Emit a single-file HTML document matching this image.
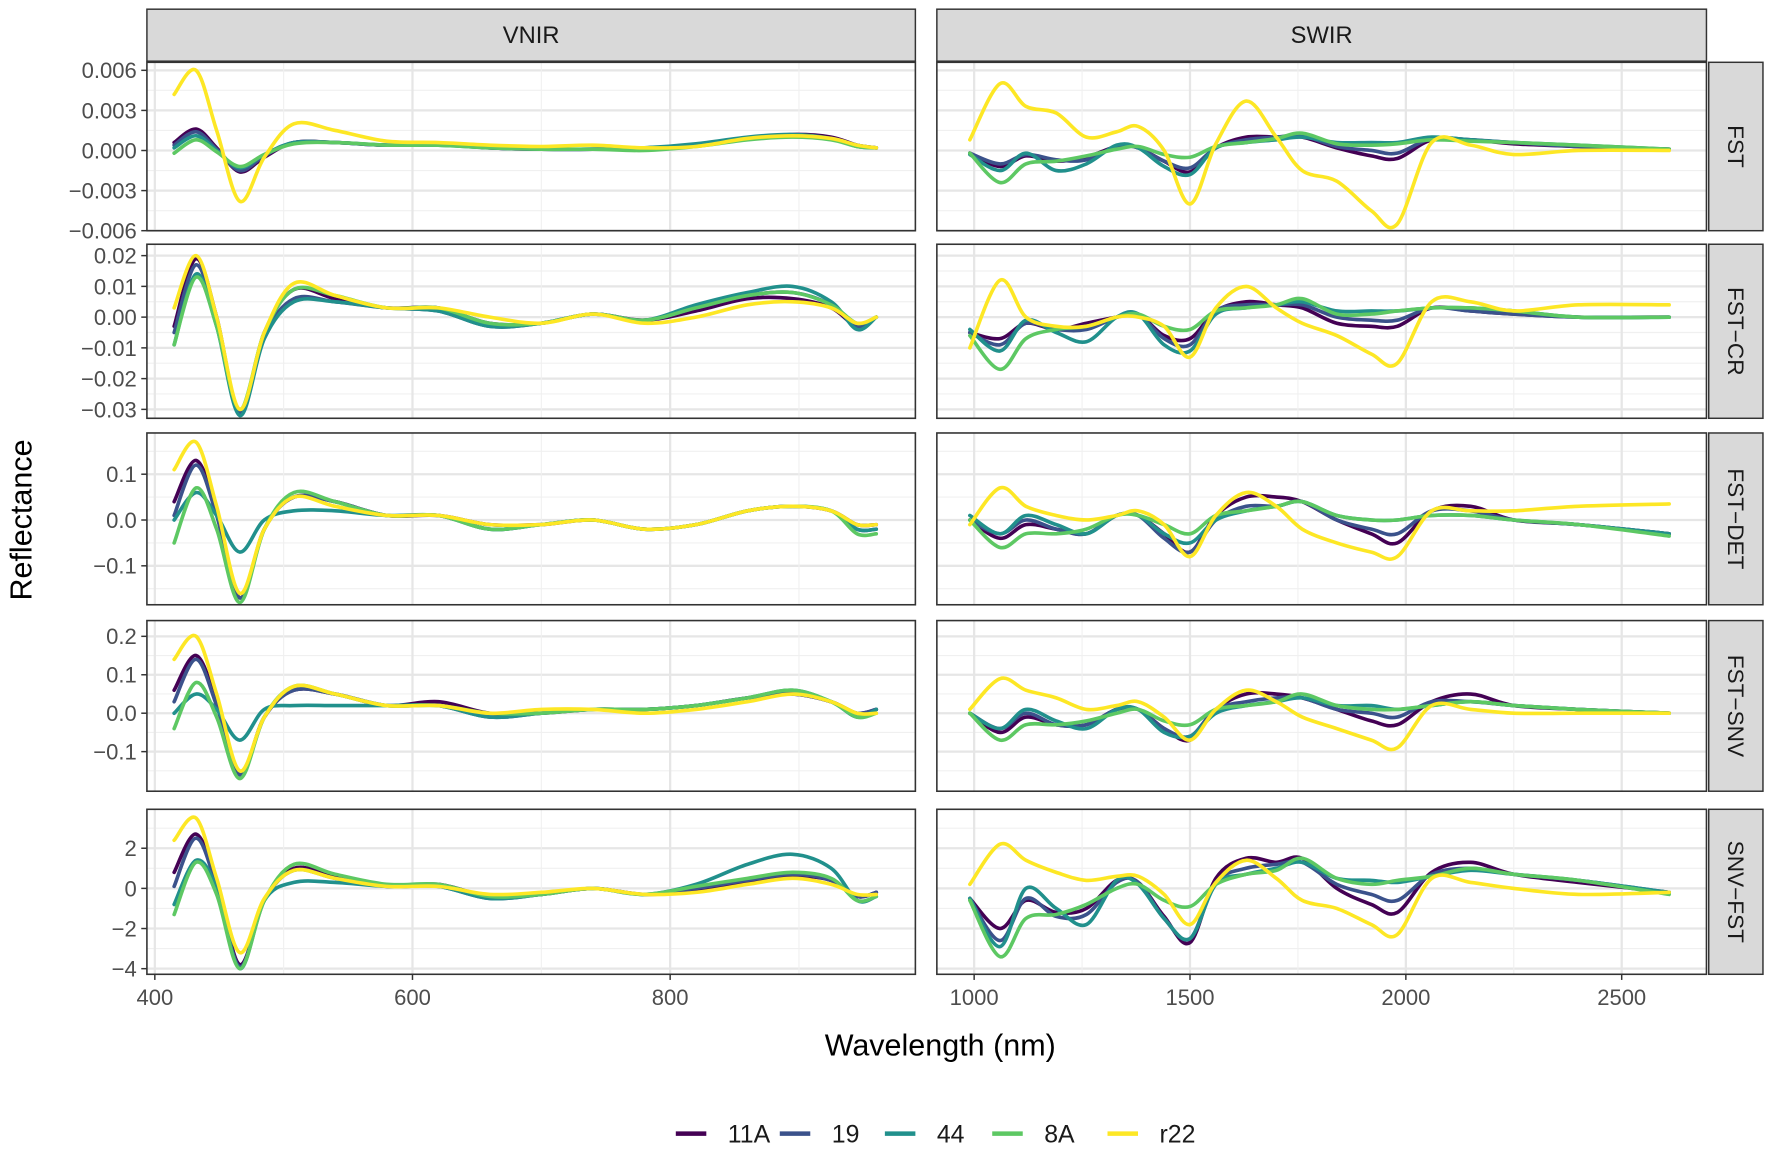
<!DOCTYPE html>
<html><head><meta charset="utf-8"><style>
html,body{margin:0;padding:0;background:#fff;}
svg{display:block;font-family:"Liberation Sans",sans-serif;}
</style></head><body>
<svg id="chart" width="1772" height="1153" viewBox="0 0 1568 1020" xmlns="http://www.w3.org/2000/svg"></svg>
<script>
// ---- data ----
const seriesNames = ["11A","19","44","8A","r22"];
const seriesColors = ["#440154","#3B528B","#21908C","#5DC863","#FDE725"];
const rowNames = ["FST","FST\u2212CR","FST\u2212DET","FST\u2212SNV","SNV\u2212FST"];
const vnirWl = [415,432,448,466,485,508,540,580,620,660,700,740,780,820,860,895,925,945,960];
const swirWl = [990,1060,1120,1190,1260,1330,1380,1440,1500,1560,1630,1700,1760,1840,1920,1980,2060,2150,2250,2400,2610];
const vnirTicks = [400,600,800];
const swirTicks = [1000,1500,2000,2500];
// y tick values (in panel data units) and printed labels
const yTickVals = [[6,3,0,-3,-6],[2,1,0,-1,-2,-3],[1,0,-1],[2,1,0,-1],[2,0,-2,-4]];
const yTickLabels = [["0.006","0.003","0.000","\u22120.003","\u22120.006"],["0.02","0.01","0.00","\u22120.01","\u22120.02","\u22120.03"],["0.1","0.0","\u22120.1"],["0.2","0.1","0.0","\u22120.1"],["2","0","\u22122","\u22124"]];
const yDomains = [[-6,6.6],[-3.29,2.37],[-1.85,1.90],[-2.03,2.41],[-4.28,3.94]];

// FST (x0.001)
const fstV = [
[0.6,1.6,0.2,-1.6,-0.5,0.6,0.6,0.4,0.5,0.2,0.1,0.1,0.2,0.4,0.9,1.2,1.0,0.4,0.2],
[0.4,1.4,0.1,-1.5,-0.4,0.6,0.6,0.4,0.5,0.2,0.1,0.1,0.2,0.4,0.9,1.1,0.9,0.4,0.2],
[0.2,1.1,0.0,-1.3,-0.3,0.6,0.6,0.4,0.4,0.2,0.1,0.1,0.2,0.5,1.0,1.2,0.9,0.3,0.2],
[-0.2,0.8,-0.1,-1.2,-0.3,0.5,0.6,0.4,0.4,0.2,0.1,0.1,0.0,0.3,0.8,1.0,0.8,0.3,0.2],
[4.2,6.0,1.5,-3.8,-0.5,2.0,1.5,0.7,0.6,0.4,0.3,0.4,0.2,0.3,0.9,1.1,0.9,0.4,0.2]];
const fstS = [
[-0.2,-1.2,-0.4,-0.8,-0.5,0.3,0.2,-0.8,-1.6,0.2,1.0,1.0,1.0,0.2,-0.4,-0.6,0.8,0.8,0.5,0.3,0.1],
[-0.2,-1.0,-0.3,-0.7,-0.7,0.3,0.2,-0.8,-1.3,0.2,0.8,1.0,1.1,0.3,0.0,-0.2,0.9,0.8,0.6,0.3,0.1],
[-0.3,-1.5,-0.2,-1.5,-1.0,0.4,0.2,-1.2,-1.8,0.2,0.6,0.8,1.0,0.6,0.6,0.6,1.0,0.8,0.6,0.4,0.1],
[-0.2,-2.4,-1.0,-0.8,-0.4,0.1,0.3,-0.3,-0.5,0.3,0.6,0.9,1.3,0.5,0.4,0.5,0.8,0.7,0.6,0.4,0.1],
[0.8,5.0,3.3,2.8,1.0,1.4,1.8,0.0,-4.0,0.5,3.7,1.0,-1.5,-2.3,-4.5,-5.5,0.6,0.4,-0.3,0.0,0.0]];
// FST-CR (x0.01)
const crV = [
[-0.3,1.9,0.0,-3.1,-0.5,0.9,0.6,0.3,0.3,-0.2,-0.2,0.1,-0.1,0.2,0.6,0.6,0.3,-0.3,0.0],
[-0.5,1.7,-0.2,-3.1,-0.6,0.6,0.5,0.3,0.2,-0.3,-0.2,0.1,-0.1,0.3,0.7,0.8,0.4,-0.3,0.0],
[-0.9,1.4,-0.3,-3.2,-0.7,0.5,0.5,0.3,0.2,-0.3,-0.2,0.1,-0.1,0.4,0.8,1.0,0.5,-0.4,0.0],
[-0.9,1.3,-0.3,-3.0,-0.5,0.9,0.7,0.3,0.3,-0.2,-0.2,0.1,-0.1,0.3,0.7,0.8,0.4,-0.2,0.0],
[0.3,2.0,0.0,-3.0,-0.5,1.1,0.7,0.3,0.3,0.0,-0.2,0.1,-0.2,0.0,0.4,0.5,0.3,-0.2,0.0]];
const crS = [
[-0.5,-0.7,-0.2,-0.4,-0.2,0.0,0.1,-0.6,-0.7,0.2,0.5,0.4,0.3,-0.2,-0.3,-0.3,0.3,0.2,0.1,0.0,0.0],
[-0.5,-0.9,-0.2,-0.4,-0.4,0.0,0.1,-0.7,-0.9,0.2,0.4,0.4,0.4,0.0,-0.1,-0.1,0.3,0.2,0.1,0.0,0.0],
[-0.4,-1.1,-0.1,-0.5,-0.8,0.0,0.1,-0.9,-1.1,0.1,0.3,0.4,0.5,0.2,0.2,0.2,0.3,0.3,0.2,0.0,0.0],
[-0.6,-1.7,-0.7,-0.4,-0.3,0.0,0.1,-0.3,-0.4,0.2,0.3,0.4,0.6,0.1,0.1,0.2,0.3,0.3,0.2,0.0,0.0],
[-1.0,1.2,0.0,-0.3,-0.3,0.0,0.0,-0.3,-1.3,0.3,1.0,0.3,-0.2,-0.6,-1.2,-1.5,0.5,0.5,0.2,0.4,0.4]];
// FST-DET (x0.1)
const detV = [
[0.4,1.3,0.2,-1.7,-0.2,0.5,0.4,0.1,0.1,-0.1,-0.1,0.0,-0.2,-0.1,0.2,0.3,0.2,-0.1,-0.1],
[0.1,1.2,0.1,-1.7,-0.2,0.5,0.4,0.1,0.1,-0.2,-0.1,0.0,-0.2,-0.1,0.2,0.3,0.2,-0.2,-0.2],
[0.0,0.6,0.1,-0.7,0.0,0.2,0.2,0.1,0.1,-0.2,-0.1,0.0,-0.2,-0.1,0.2,0.3,0.2,-0.2,-0.2],
[-0.5,0.7,-0.2,-1.8,-0.2,0.6,0.4,0.1,0.1,-0.2,-0.1,0.0,-0.2,-0.1,0.2,0.3,0.2,-0.3,-0.3],
[1.1,1.7,0.3,-1.6,-0.2,0.5,0.3,0.1,0.1,-0.1,-0.1,0.0,-0.2,-0.1,0.2,0.3,0.2,-0.1,-0.1]];
const detS = [
[0.0,-0.4,-0.1,-0.2,-0.3,0.1,0.1,-0.3,-0.7,0.1,0.5,0.5,0.4,0.0,-0.3,-0.5,0.2,0.3,0.0,-0.1,-0.3],
[0.0,-0.3,0.0,-0.2,-0.3,0.1,0.1,-0.4,-0.7,0.0,0.3,0.3,0.4,0.0,-0.2,-0.3,0.2,0.2,0.0,-0.1,-0.3],
[0.1,-0.3,0.1,-0.1,-0.3,0.1,0.1,-0.3,-0.5,0.0,0.2,0.3,0.4,0.1,0.0,0.0,0.1,0.1,0.0,-0.1,-0.3],
[0.0,-0.6,-0.3,-0.3,-0.2,0.1,0.1,-0.1,-0.3,0.1,0.2,0.3,0.4,0.1,0.0,0.0,0.1,0.1,0.0,-0.1,-0.35],
[-0.1,0.7,0.3,0.1,0.0,0.1,0.2,-0.1,-0.8,0.1,0.6,0.3,-0.2,-0.5,-0.7,-0.8,0.2,0.2,0.2,0.3,0.35]];
// FST-SNV (x0.1)
const snvV = [
[0.6,1.5,0.3,-1.6,-0.1,0.6,0.5,0.2,0.3,0.0,0.0,0.1,0.1,0.2,0.4,0.5,0.3,0.0,0.1],
[0.3,1.4,0.2,-1.6,-0.1,0.6,0.5,0.2,0.2,-0.1,0.0,0.1,0.1,0.2,0.4,0.5,0.3,0.0,0.1],
[0.0,0.5,0.1,-0.7,0.1,0.2,0.2,0.2,0.2,-0.1,0.0,0.1,0.1,0.2,0.4,0.6,0.3,-0.1,0.1],
[-0.4,0.8,-0.1,-1.7,-0.1,0.7,0.5,0.2,0.2,0.0,0.0,0.1,0.1,0.2,0.4,0.6,0.3,-0.1,0.0],
[1.4,2.0,0.5,-1.5,-0.1,0.7,0.5,0.2,0.2,0.0,0.1,0.1,0.0,0.1,0.3,0.5,0.3,0.0,0.0]];
const snvS = [
[0.0,-0.5,-0.1,-0.3,-0.3,0.1,0.1,-0.4,-0.7,0.1,0.5,0.5,0.4,0.1,-0.2,-0.3,0.3,0.5,0.2,0.1,0.0],
[0.0,-0.4,0.0,-0.3,-0.3,0.1,0.1,-0.4,-0.6,0.1,0.3,0.4,0.4,0.1,0.0,-0.1,0.3,0.3,0.2,0.1,0.0],
[0.0,-0.4,0.1,-0.2,-0.4,0.1,0.1,-0.5,-0.6,0.0,0.2,0.3,0.4,0.2,0.2,0.1,0.2,0.3,0.2,0.1,0.0],
[0.0,-0.7,-0.3,-0.3,-0.2,0.0,0.1,-0.2,-0.3,0.1,0.2,0.3,0.5,0.2,0.1,0.1,0.2,0.3,0.2,0.1,0.0],
[0.1,0.9,0.6,0.4,0.1,0.2,0.3,-0.1,-0.7,0.1,0.6,0.3,-0.1,-0.4,-0.7,-0.9,0.2,0.1,0.0,0.0,0.0]];
// SNV-FST
const sfV = [
[0.8,2.7,0.3,-3.8,-0.6,1.0,0.6,0.1,0.2,-0.4,-0.3,0.0,-0.3,-0.1,0.3,0.6,0.4,-0.4,-0.2],
[0.1,2.5,0.1,-3.9,-0.6,0.9,0.5,0.1,0.1,-0.5,-0.3,0.0,-0.3,0.0,0.4,0.7,0.4,-0.4,-0.2],
[-0.8,1.4,0.0,-4.0,-0.6,0.3,0.3,0.1,0.1,-0.5,-0.3,0.0,-0.3,0.2,1.2,1.7,1.0,-0.6,-0.4],
[-1.3,1.3,-0.3,-4.0,-0.6,1.2,0.7,0.2,0.2,-0.4,-0.3,0.0,-0.3,0.1,0.5,0.8,0.5,-0.6,-0.4],
[2.4,3.5,0.5,-3.2,-0.5,0.9,0.5,0.1,0.1,-0.3,-0.2,0.0,-0.3,-0.2,0.2,0.5,0.2,-0.3,-0.3]];
const sfS = [
[-0.5,-2.0,-0.6,-1.2,-1.0,0.4,0.3,-1.4,-2.7,0.5,1.5,1.3,1.5,0.0,-0.8,-1.2,0.8,1.3,0.7,0.3,-0.2],
[-0.5,-2.6,-0.5,-1.4,-1.3,0.3,0.3,-1.5,-2.5,0.3,1.0,1.2,1.3,0.2,-0.3,-0.6,0.7,1.0,0.7,0.4,-0.2],
[-0.5,-2.9,0.0,-1.0,-1.8,0.4,0.2,-1.5,-2.5,0.2,0.7,1.0,1.3,0.5,0.4,0.3,0.6,0.9,0.7,0.4,-0.2],
[-0.6,-3.4,-1.5,-1.3,-0.8,0.0,0.2,-0.6,-0.9,0.2,0.7,0.9,1.5,0.5,0.2,0.4,0.6,1.0,0.7,0.4,-0.3],
[0.2,2.2,1.4,0.8,0.4,0.6,0.6,-0.3,-1.8,0.3,1.4,0.5,-0.6,-1.0,-1.8,-2.3,0.5,0.3,0.0,-0.3,-0.2]];
const vnirData = [fstV,crV,detV,snvV,sfV];
const swirData = [fstS,crS,detS,snvS,sfS];

// ---- layout ----
const NS = "http://www.w3.org/2000/svg";
const svg = document.getElementById("chart");
function mk(tag, attrs, parent){ const e=document.createElementNS(NS,tag); for(const k in attrs) e.setAttribute(k,attrs[k]); (parent||svg).appendChild(e); return e; }
const rowsY = [[55,204],[216,370],[383,535],[549,700],[716,862]];
const cols = [{x0:130,x1:810,dom:[392.5,988.5],wl:vnirWl,data:vnirData,ticks:vnirTicks,minor:[500,700,900],name:"VNIR"},
              {x0:829,x1:1510,dom:[826,2609+178],wl:swirWl,data:swirData,ticks:swirTicks,minor:[1250,1750,2250],name:"SWIR"}];
// x scales from tick anchors
cols[0].sx = v => 137 + (v-400)*(593-137)/400;
cols[1].sx = v => 862 + (v-1000)*(1435-862)/1500;

function pathD(pts){
  let d = "M"+pts[0][0].toFixed(1)+","+pts[0][1].toFixed(1);
  for(let i=0;i<pts.length-1;i++){
    const p0=pts[Math.max(0,i-1)],p1=pts[i],p2=pts[i+1],p3=pts[Math.min(pts.length-1,i+2)];
    const c1=[p1[0]+(p2[0]-p0[0])/6,p1[1]+(p2[1]-p0[1])/6];
    const c2=[p2[0]-(p3[0]-p1[0])/6,p2[1]-(p3[1]-p1[1])/6];
    d+=" C"+c1[0].toFixed(1)+","+c1[1].toFixed(1)+" "+c2[0].toFixed(1)+","+c2[1].toFixed(1)+" "+p2[0].toFixed(1)+","+p2[1].toFixed(1);
  }
  return d;
}

// column strips
cols.forEach(c=>{
  const g=mk("g",{});
  
  
  mk("rect",{x:c.x0,y:8,width:c.x1-c.x0,height:46,fill:"#d9d9d9",stroke:"#333",
    "stroke-width":1.3},g);
  const t=mk("text",{x:(c.x0+c.x1)/2,y:38,"text-anchor":"middle","font-size":21,fill:"#1a1a1a"},g);
  t.textContent=c.name;
});

rowsY.forEach((ry,ri)=>{
  const [y0,y1]=ry, dom=yDomains[ri];
  const sy = v => y1 - (v-dom[0])/(dom[1]-dom[0])*(y1-y0);
  cols.forEach((c,ci)=>{
    const g=mk("g",{});
    
    
    mk("rect",{x:c.x0,y:y0,width:c.x1-c.x0,height:y1-y0,fill:"#fff"},g);
    // grid
    const tv=yTickVals[ri];
    for(let i=0;i<tv.length-1;i++){
      const ym=sy((tv[i]+tv[i+1])/2);
      mk("line",{x1:c.x0,x2:c.x1,y1:ym,y2:ym,stroke:"#f0f0f0","stroke-width":1},g);
    }
    const step=tv[0]-tv[1];
    [tv[0]+step/2, tv[tv.length-1]-step/2].forEach(v=>{const yy=sy(v); if(yy>y0&&yy<y1) mk("line",{x1:c.x0,x2:c.x1,y1:yy,y2:yy,stroke:"#f0f0f0","stroke-width":1},g);});
    tv.forEach(v=>{const yy=sy(v); mk("line",{x1:c.x0,x2:c.x1,y1:yy,y2:yy,stroke:"#e6e6e6","stroke-width":2},g);});
    c.minor.forEach(v=>mk("line",{x1:c.sx(v),x2:c.sx(v),y1:y0,y2:y1,stroke:"#f0f0f0","stroke-width":1},g));
    c.ticks.forEach(v=>mk("line",{x1:c.sx(v),x2:c.sx(v),y1:y0,y2:y1,stroke:"#e6e6e6","stroke-width":2},g));
    // series
    c.data[ri].forEach((vals,si)=>{
      const pts=vals.map((v,k)=>[c.sx(c.wl[k]),sy(v)]);
      const p=mk("path",{d:pathD(pts),fill:"none",stroke:seriesColors[si],"stroke-width":3.2,"stroke-linejoin":"round","stroke-linecap":"round"},g);
      
      
    });
    mk("rect",{x:c.x0,y:y0,width:c.x1-c.x0,height:y1-y0,fill:"none",stroke:"#333","stroke-width":1.4},g);
    if(ci===0){
      tv.forEach((v,k)=>{const yy=sy(v);
        mk("line",{x1:c.x0-5,x2:c.x0,y1:yy,y2:yy,stroke:"#333","stroke-width":1.3},g);
        const t=mk("text",{x:c.x0-9,y:yy+7,"text-anchor":"end","font-size":19.5,fill:"#4d4d4d"},g);
        t.textContent=yTickLabels[ri][k];
        
        
      });
    }
    if(ri===rowsY.length-1){
      c.ticks.forEach(v=>{const xx=c.sx(v);
        mk("line",{x1:xx,x2:xx,y1:y1,y2:y1+5,stroke:"#333","stroke-width":1.3},g);
        const t=mk("text",{x:xx,y:y1+27,"text-anchor":"middle","font-size":19.5,fill:"#4d4d4d"},g);
        t.textContent=v;
        
        
      });
    }
  });
  // row strip
  const g=mk("g",{});
  
  
  mk("rect",{x:1512,y:y0,width:48,height:y1-y0,fill:"#d9d9d9",stroke:"#333","stroke-width":1.3},g);
  const cy=(y0+y1)/2;
  const t=mk("text",{x:1536,y:cy,"text-anchor":"middle","font-size":20,fill:"#1a1a1a",transform:"rotate(90 1536 "+cy+")","dy":7},g);
  t.textContent=rowNames[ri];
});

// axis titles
let t=mk("text",{x:832,y:934,"text-anchor":"middle","font-size":27,fill:"#000"});
t.textContent="Wavelength (nm)";


t=mk("text",{x:28,y:460,"text-anchor":"middle","font-size":27,fill:"#000",transform:"rotate(-90 28 460)"});
t.textContent="Reflectance";



// legend
const legX=[598,690,783,878,980];
seriesNames.forEach((n,i)=>{
  const g=mk("g",{});
  
  
  mk("line",{x1:legX[i],x2:legX[i]+27,y1:1003,y2:1003,stroke:seriesColors[i],"stroke-width":4},g);
  const tx=mk("text",{x:legX[i]+46,y:1011,"font-size":22,fill:"#1a1a1a"},g);
  tx.textContent=n;
});
</script>
</body></html>
